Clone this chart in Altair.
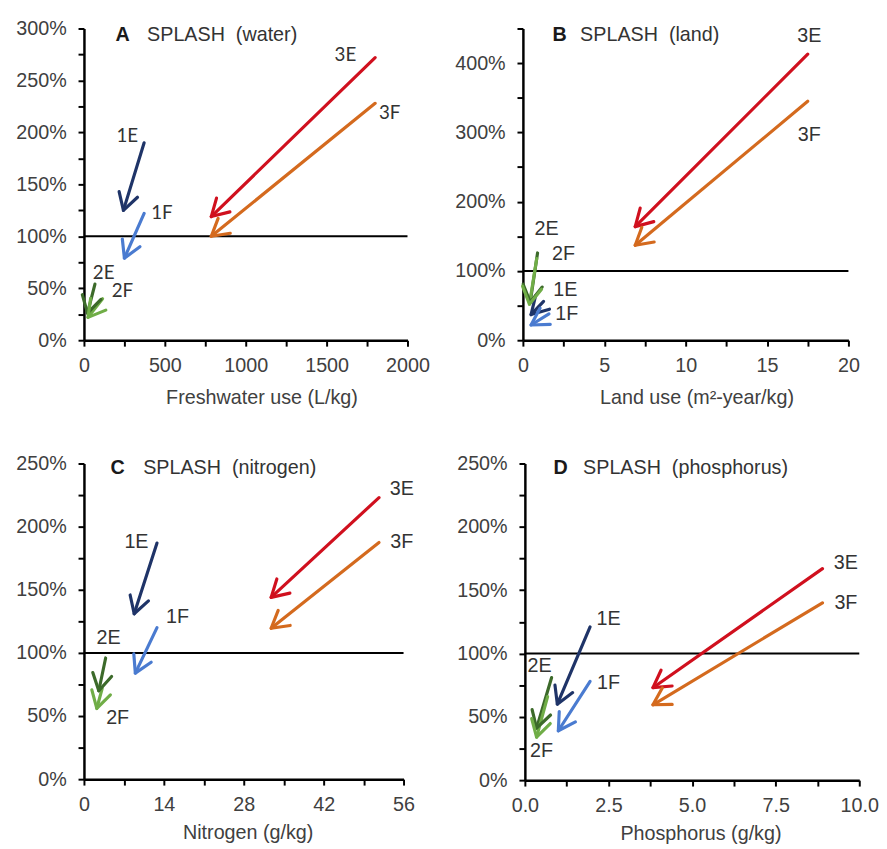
import math
import altair as alt
import pandas as pd

# ---------------- data ----------------
series = ["1E", "1F", "2E", "2F", "3E", "3F"]
colors = ["#1f3468", "#4a7bd0", "#3c6a2a", "#70ad47", "#d0101e", "#d46a1e"]
ref_line = [100]

# Panel A: freshwater use (L/kg) vs %
water_x0 = [372, 372, 68, 115, 1800, 1800]
water_y0 = [190, 122, 54, 40, 272, 228]
water_x1 = [244, 250, 22, 25, 787, 787]
water_y1 = [125, 79, 26, 22, 119, 100]
water_lx = [268, 482, 122, 238, 1616, 1890]
water_ly = [196, 122, 65, 47, 274, 219]

# Panel B: land use (m2-year/kg)
land_x0 = [1.27, 1.6, 0.9, 0.85, 17.5, 17.5]
land_y0 = [56, 38, 126, 118, 413, 345]
land_x1 = [0.5, 0.5, 0.45, 0.4, 6.9, 6.9]
land_y1 = [37, 22, 55, 52, 164, 137]
land_lx = [2.6, 2.7, 1.45, 2.5, 17.6, 17.6]
land_ly = [73, 38, 160, 125, 439, 296]

# Panel C: nitrogen (g/kg)
nit_x0 = [12.8, 12.8, 3.8, 3.2, 51.7, 51.7]
nit_y0 = [187, 120, 96, 72, 223, 187.5]
nit_x1 = [8.8, 9.0, 2.6, 2.25, 32.8, 32.8]
nit_y1 = [131, 84, 70, 56, 144, 119.5]
nit_lx = [9.2, 16.4, 4.3, 5.9, 55.7, 55.7]
nit_ly = [187.5, 128, 112, 48, 230, 187.5]

# Panel D: phosphorus (g/kg)
phos_x0 = [1.95, 1.95, 0.8, 0.68, 8.9, 8.9]
phos_y0 = [121, 78, 81, 66, 167, 140]
phos_x1 = [0.97, 1.0, 0.35, 0.35, 3.83, 3.83]
phos_y1 = [60, 39, 41, 34, 73, 59.5]
phos_lx = [2.5, 2.5, 0.44, 0.5, 9.6, 9.6]
phos_ly = [127, 77, 90, 23, 171, 140]

CHEVRON = "M -0.5 0.866 L 0 0 L 0.5 0.866"
FONT = "Liberation Sans"


def panel(x0, y0, x1, y1, lx, ly, xmax, ymax, W, H, xticks, yticks,
          x_label_expr, y_label_expr, xtitle, letter, name,
          title_x, title_y, label_font, label_size, tx_letter, tx_name, ty):
    kx = W / xmax
    ky = H / ymax
    ang = []
    for a, b, c, d in zip(x0, y0, x1, y1):
        dx = (c - a) * kx
        dy = -(d - b) * ky
        ang.append(math.degrees(math.atan2(dx, -dy)) % 360)
    df = pd.DataFrame({"series": series, "x0": x0, "y0": y0, "x1": x1,
                       "y1": y1, "lx": lx, "ly": ly, "ang": ang})

    xs = alt.Scale(domain=[0, xmax], nice=False, zero=True)
    ys = alt.Scale(domain=[0, ymax], nice=False, zero=True)
    xaxis = alt.Axis(values=xticks, labelExpr=x_label_expr, title=xtitle,
                     grid=False, labelFlush=False, labelOverlap=False,
                     tickSize=6, labelPadding=10, titleX=title_x,
                     titleY=title_y, titleBaseline="alphabetic",
                     titleAlign="center")
    yaxis = alt.Axis(values=yticks, labelExpr=y_label_expr, title=None,
                     grid=False, labelOverlap=False, tickSize=6,
                     labelPadding=12)
    color = alt.Color("series:N", scale=alt.Scale(domain=series, range=colors),
                      legend=None)

    base = alt.Chart(df)
    ref = alt.Chart(pd.DataFrame({"ref": ref_line})).mark_rule(
        color="black", strokeWidth=2).encode(
        y=alt.Y("ref:Q", scale=ys, axis=yaxis))
    shaft = base.mark_rule(strokeWidth=3.2, strokeCap="round").encode(
        x=alt.X("x0:Q", scale=xs, axis=xaxis),
        y=alt.Y("y0:Q", scale=ys, axis=yaxis),
        x2="x1:Q", y2="y1:Q", color=color)
    head = base.mark_point(shape=CHEVRON, filled=False, size=1521,
                           strokeWidth=3.2, opacity=1, strokeJoin="round",
                           strokeCap="round").encode(
        x=alt.X("x1:Q", scale=xs, axis=xaxis),
        y=alt.Y("y1:Q", scale=ys, axis=yaxis),
        angle=alt.Angle("ang:Q", scale=None), color=color)
    labels = base.mark_text(font=label_font, fontSize=label_size,
                            color="#333333").encode(
        x=alt.X("lx:Q", scale=xs, axis=xaxis),
        y=alt.Y("ly:Q", scale=ys, axis=yaxis),
        text="series:N")
    tdf = pd.DataFrame({"letter": [letter], "name": [name]})
    t1 = alt.Chart(tdf).mark_text(align="left", baseline="middle", font=FONT,
                                  fontSize=20, fontWeight="bold",
                                  color="#1a1a1a").encode(
        x=alt.value(tx_letter), y=alt.value(ty), text="letter:N")
    t2 = alt.Chart(tdf).mark_text(align="left", baseline="middle", font=FONT,
                                  fontSize=20, color="#333333").encode(
        x=alt.value(tx_name), y=alt.value(ty), text="name:N")
    return alt.layer(ref, shaft, head, labels, t1, t2).properties(width=W, height=H)


pct50 = "datum.value % 50 == 0 ? datum.value + '%' : ''"
pct100 = "datum.value % 100 == 0 ? datum.value + '%' : ''"

A = panel(water_x0, water_y0, water_x1, water_y1, water_lx, water_ly,
          2000, 300, 328, 316, list(range(0, 2001, 250)), list(range(0, 301, 25)),
          "datum.value % 500 == 0 ? datum.value : ''", pct50,
          "Freshwater use (L/kg)", "A", "SPLASH\u00a0\u00a0(water)",
          180, 64, "Lato", 19, 32, 64, 7)
B = panel(land_x0, land_y0, land_x1, land_y1, land_lx, land_ly,
          20, 450, 330, 316, [i * 2.5 for i in range(9)], list(range(0, 451, 50)),
          "datum.value % 5 == 0 ? datum.value : ''", pct100,
          "Land use (m\u00b2-year/kg)", "B", "SPLASH\u00a0\u00a0(land)",
          176, 64, FONT, 20, 30, 58, 7)
C = panel(nit_x0, nit_y0, nit_x1, nit_y1, nit_lx, nit_ly,
          56, 250, 324, 320, list(range(0, 57, 7)), list(range(0, 251, 25)),
          "datum.value % 14 == 0 ? datum.value : ''", pct50,
          "Nitrogen (g/kg)", "C", "SPLASH\u00a0\u00a0(nitrogen)",
          166, 60, FONT, 20, 27, 60, 5)
D = panel(phos_x0, phos_y0, phos_x1, phos_y1, phos_lx, phos_ly,
          10, 250, 339, 321, [i * 1.25 for i in range(9)], list(range(0, 251, 25)),
          "datum.value % 2.5 == 0 ? format(datum.value, '.1f') : ''", pct50,
          "Phosphorus (g/kg)", "D", "SPLASH\u00a0\u00a0(phosphorus)",
          178, 60, FONT, 20, 29, 59, 5)

row1 = alt.hconcat(A, B, spacing=24)
row2 = alt.hconcat(C, D, spacing=41)
chart = alt.vconcat(row1, row2, spacing=47).properties(
    padding={"left": 7, "top": 5, "right": 0, "bottom": 0}
).configure_axis(
    labelFont=FONT, labelFontSize=20, labelColor="#404040",
    titleFont=FONT, titleFontSize=20, titleFontWeight="normal",
    titleColor="#404040", domainColor="black", domainWidth=2.5,
    tickColor="black", tickWidth=2
).configure_view(stroke=None)

chart.save("out.html", embed_options={"renderer": "svg", "actions": False})
